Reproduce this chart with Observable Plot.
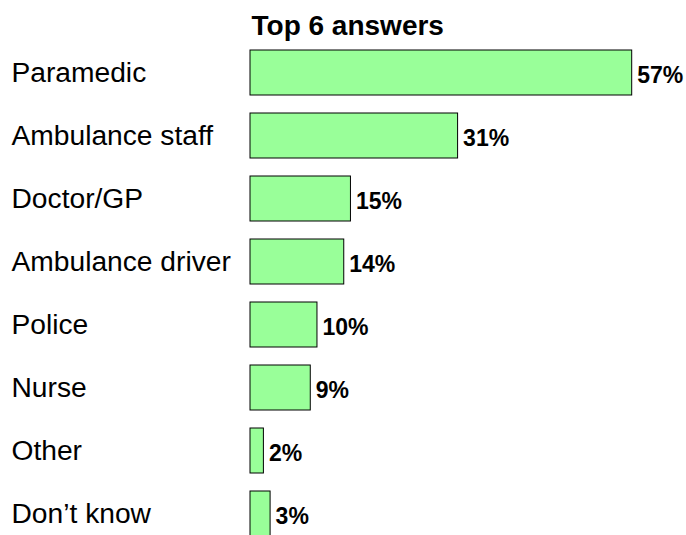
<!DOCTYPE html>
<html><head><meta charset="utf-8">
<script src="https://cdn.jsdelivr.net/npm/d3@7"></script>
<script src="https://cdn.jsdelivr.net/npm/@observablehq/plot@0.6"></script>
<style>body{margin:0;background:#fff}</style>
</head><body><div id="chart"></div>
<script>
const categories = ["Paramedic", "Ambulance staff", "Doctor/GP", "Ambulance driver", "Police", "Nurse", "Other", "Don’t know"];
const values = [57, 31, 15, 14, 10, 9, 2, 3];
const valueLabels = ["57%", "31%", "15%", "14%", "10%", "9%", "2%", "3%"];
const title = "Top 6 answers";

const data = categories.map((c, i) => ({category: c, value: values[i], label: valueLabels[i]}));

const chart = Plot.plot({
  width: 686,
  height: 535,
  marginLeft: 250,
  marginRight: 54,
  marginTop: 0,
  marginBottom: 0,
  x: {domain: [0, 57], range: [250, 631.7], axis: null},
  y: {domain: categories, range: [29.7, 557.3], padding: 0.283, axis: null},
  style: {fontFamily: "'Liberation Sans', Arial, sans-serif", background: "#fff", overflow: "hidden"},
  marks: [
    Plot.barX(data, {x: "value", y: "category", fill: "#99ff99", stroke: "#000", strokeWidth: 1}),
    Plot.text(data, {x: "value", y: "category", text: "label", textAnchor: "start", dx: 5, dy: 2.5, fontWeight: "bold", fontSize: 23}),
    Plot.text(data, {y: "category", text: "category", frameAnchor: "left", textAnchor: "start", dx: -239, fontSize: 28.2}),
    Plot.text([title], {frameAnchor: "top-left", textAnchor: "start", lineAnchor: "bottom", dx: 1, dy: 34, fontWeight: "bold", fontSize: 28})
  ]
});
document.getElementById("chart").append(chart);
</script>
</body></html>
